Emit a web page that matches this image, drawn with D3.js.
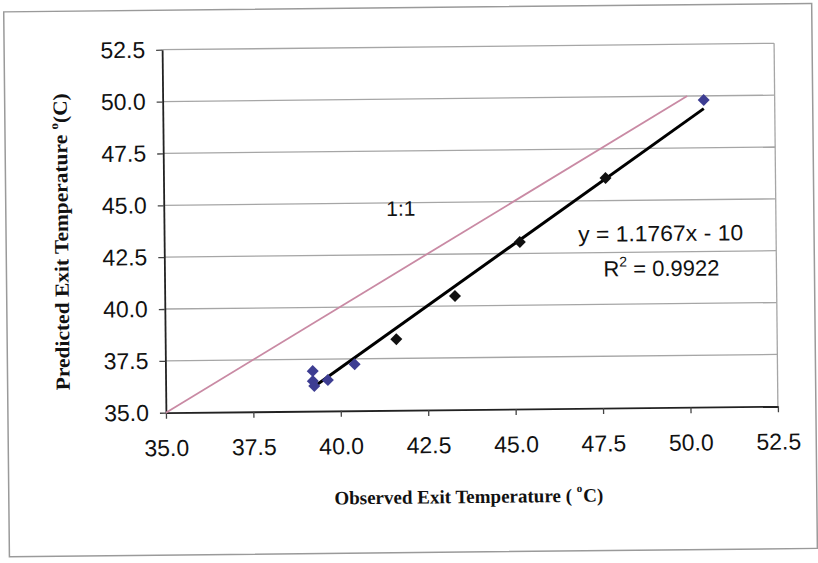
<!DOCTYPE html>
<html>
<head>
<meta charset="utf-8">
<script src="https://cdn.jsdelivr.net/npm/d3@7"></script>
<style>
  html, body { margin: 0; padding: 0; background: #fff; }
  svg { display: block; }
  .tick text { font-family: "Liberation Sans", Arial, sans-serif; font-size: 23px; fill: #111; }
</style>
</head>
<body>
<svg id="chart" width="818" height="563"></svg>
<script>
// Observed vs predicted exit temperature (°C)
const observedBlue   = [39.21, 39.21, 39.25, 39.64, 40.41, 50.47];
const predictedBlue  = [36.93, 36.45, 36.21, 36.49, 37.24, 49.80];
const observedBlack  = [41.61, 43.30, 45.17, 47.64];
const predictedBlack = [38.43, 40.48, 43.05, 46.09];

// 1:1 reference line end points
const unityLine = [35, 50];

// Linear fit reported on the chart
const trendSlope = 1.1767;
const trendIntercept = -10;
const rSquared = 0.9922;

// Axis ticks
const axisTicks = [35.0, 37.5, 40.0, 42.5, 45.0, 47.5, 50.0, 52.5];

const W = 818, H = 563;
const plot = { left: 164, right: 776, top: 46.5, bottom: 409.5 };

const svg = d3.select("#chart");
svg.append("rect").attr("width", W).attr("height", H).attr("fill", "#fff");

// the sheet sits at a slight angle
const g = svg.append("g").attr("transform", "rotate(-0.6, 470, 228)");

// outer chart frame
g.append("rect")
  .attr("x", 6).attr("y", 7).attr("width", 808).attr("height", 545)
  .attr("fill", "none").attr("stroke", "#9a9a9a").attr("stroke-width", 1.5);

const x = d3.scaleLinear().domain([35, 52.5]).range([plot.left, plot.right]);
const y = d3.scaleLinear().domain([35, 52.5]).range([plot.bottom, plot.top]);

// horizontal gridlines
g.append("g").selectAll("line").data(axisTicks.slice(1)).join("line")
  .attr("x1", plot.left).attr("x2", plot.right)
  .attr("y1", d => y(d)).attr("y2", d => y(d))
  .attr("stroke", "#a6a6a6").attr("stroke-width", 1.3);

// plot area right border
g.append("line")
  .attr("x1", plot.right).attr("x2", plot.right)
  .attr("y1", plot.top).attr("y2", plot.bottom)
  .attr("stroke", "#a6a6a6").attr("stroke-width", 1.3);

// axes
const xAxis = g.append("g")
  .attr("transform", `translate(0,${plot.bottom})`)
  .call(d3.axisBottom(x).tickValues(axisTicks).tickFormat(d3.format(".1f"))
        .tickSizeInner(6).tickSizeOuter(0).tickPadding(21));
const yAxis = g.append("g")
  .attr("transform", `translate(${plot.left},0)`)
  .call(d3.axisLeft(y).tickValues(axisTicks).tickFormat(d3.format(".1f"))
        .tickSizeInner(6).tickSizeOuter(0).tickPadding(11));
[xAxis, yAxis].forEach(a => {
  a.select(".domain").attr("stroke", "#222").attr("stroke-width", 1.8);
  a.selectAll(".tick line").attr("stroke", "#444").attr("stroke-width", 1.3);
});

// 1:1 line
g.append("line")
  .attr("x1", x(unityLine[0])).attr("y1", y(unityLine[0]))
  .attr("x2", x(unityLine[1])).attr("y2", y(unityLine[1]))
  .attr("stroke", "#c98aa4").attr("stroke-width", 1.8);

// fitted trend line across the observed range
const allObs = observedBlue.concat(observedBlack);
const xMin = d3.min(allObs), xMax = d3.max(allObs);
g.append("line")
  .attr("x1", x(xMin)).attr("y1", y(trendSlope * xMin + trendIntercept))
  .attr("x2", x(xMax)).attr("y2", y(trendSlope * xMax + trendIntercept))
  .attr("stroke", "#000").attr("stroke-width", 3);

// diamond markers
const diamond = d3.symbol().type(d3.symbolSquare).size(72)();
function drawPoints(xs, ys, color) {
  g.append("g").selectAll("path").data(xs.map((v, i) => [v, ys[i]])).join("path")
    .attr("d", diamond)
    .attr("transform", d => `translate(${x(d[0])},${y(d[1])}) rotate(45)`)
    .attr("fill", color);
}
drawPoints(observedBlue, predictedBlue, "#3d3d92");
drawPoints(observedBlack, predictedBlack, "#111");

// labels
const sans = '"Liberation Sans", Arial, sans-serif';
const serif = '"Liberation Serif", "Times New Roman", serif';

g.append("text").attr("x", 401).attr("y", 215)
  .attr("text-anchor", "middle").attr("font-family", sans).attr("font-size", 21)
  .attr("fill", "#111").text("1:1");

const fmtSign = trendIntercept < 0 ? " - " : " + ";
g.append("text").attr("x", 578).attr("y", 243)
  .attr("font-family", sans).attr("font-size", 22).attr("fill", "#111")
  .attr("textLength", 165).attr("lengthAdjust", "spacingAndGlyphs")
  .text(`y = ${trendSlope}x${fmtSign}${Math.abs(trendIntercept)}`);

const r2 = g.append("text").attr("x", 603).attr("y", 278)
  .attr("font-family", sans).attr("font-size", 22).attr("fill", "#111");
r2.append("tspan").text("R");
r2.append("tspan").attr("font-size", 14).attr("dy", -10).text("2");
r2.append("tspan").attr("dy", 10).text(` = ${rSquared}`);

// axis titles
const xt = g.append("text").attr("x", 466).attr("y", 503)
  .attr("text-anchor", "middle").attr("font-family", serif)
  .attr("font-weight", "bold").attr("font-size", 19).attr("fill", "#111");
xt.append("tspan").text("Observed Exit Temperature ( ");
xt.append("tspan").attr("font-size", 11).attr("dy", -10).text("o");
xt.append("tspan").attr("dy", 10).attr("dx", 1).text("C)");

const yt = g.append("text")
  .attr("transform", "translate(68,386) rotate(-90)")
  .attr("font-family", serif)
  .attr("font-weight", "bold").attr("font-size", 20).attr("fill", "#111")
  .attr("textLength", 297).attr("lengthAdjust", "spacingAndGlyphs");
yt.append("tspan").text("Predicted Exit Temperature ");
yt.append("tspan").attr("font-size", 12).attr("dy", -9).text("o");
yt.append("tspan").attr("dy", 9).text("(C)");
</script>
</body>
</html>
